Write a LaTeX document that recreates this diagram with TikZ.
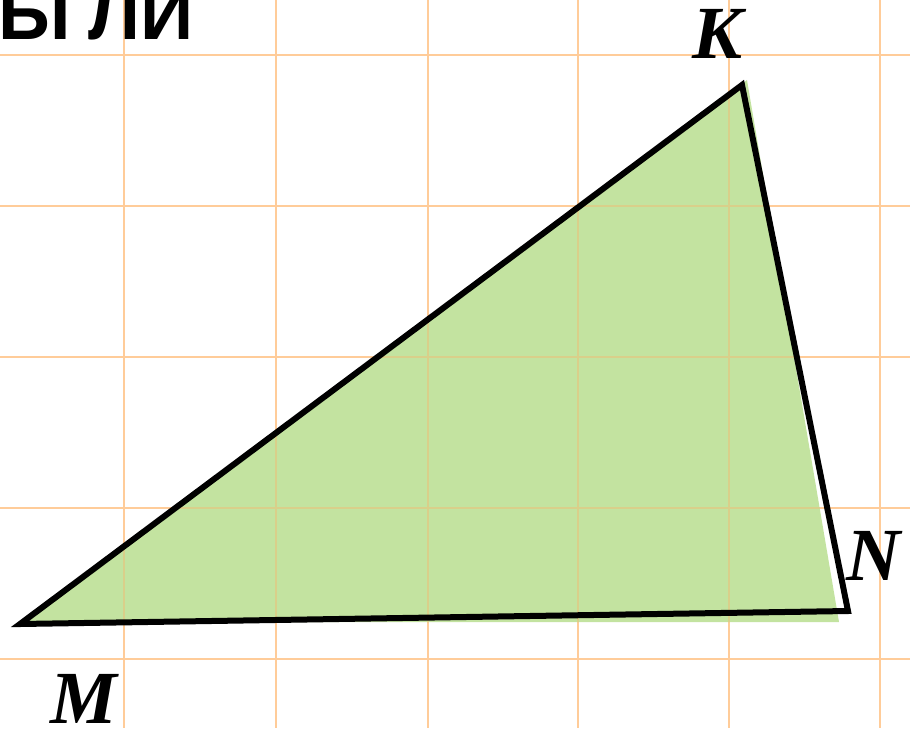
\documentclass[tikz,border=0pt]{standalone}
\usepackage{fontspec}
\setmainfont{Liberation Serif}
\newfontfamily\headfont{Liberation Sans}
\definecolor{gridc}{HTML}{FFCC99}
\definecolor{gridin}{HTML}{D9CF8A}
\definecolor{fillg}{HTML}{C3E3A0}
\begin{document}
\begin{tikzpicture}[x=1pt,y=-1pt,
  gridline/.style={gridc,line width=2.5pt},
  edge/.style={black,line width=6pt,line join=miter},
  vlabel/.style={font=\fontsize{75}{75}\selectfont\bfseries\itshape,inner sep=0pt,anchor=base west}]
\useasboundingbox (0,0) rectangle (910,728);
\clip (0,0) rectangle (910,728);
% grid
\foreach \x in {124,276,428,578,729,880} \draw[gridline] (\x,0) -- (\x,728);
\foreach \y in {55,206,357,508,659} \draw[gridline] (0,\y) -- (910,\y);
% green fill
\fill[fillg] (25,622) -- (747,80) -- (839,622) -- cycle;
\begin{scope}
\clip (25,622) -- (747,80) -- (839,622) -- cycle;
\foreach \x in {124,276,428,578,729,880} \draw[gridin,line width=2.5pt] (\x,0) -- (\x,728);
\foreach \y in {55,206,357,508,659} \draw[gridin,line width=2.5pt] (0,\y) -- (910,\y);
\end{scope}
% triangle
\coordinate (M) at (20,624);
\coordinate (K) at (742,85);
\coordinate (N) at (848,611);
\draw[edge] (M) -- (K) -- (N) -- cycle;
% labels
\node[vlabel] (lK) at (692,58) {K};
\node[vlabel] (lN) at (846,580) {N};
\node[vlabel] (lM) at (50,723) {M};
\node[font=\headfont\fontsize{74}{74}\selectfont\bfseries,inner sep=0pt,anchor=base west] (title) at (-2,39) {Ы\hspace{18pt}ЛИ};
\end{tikzpicture}
\end{document}
